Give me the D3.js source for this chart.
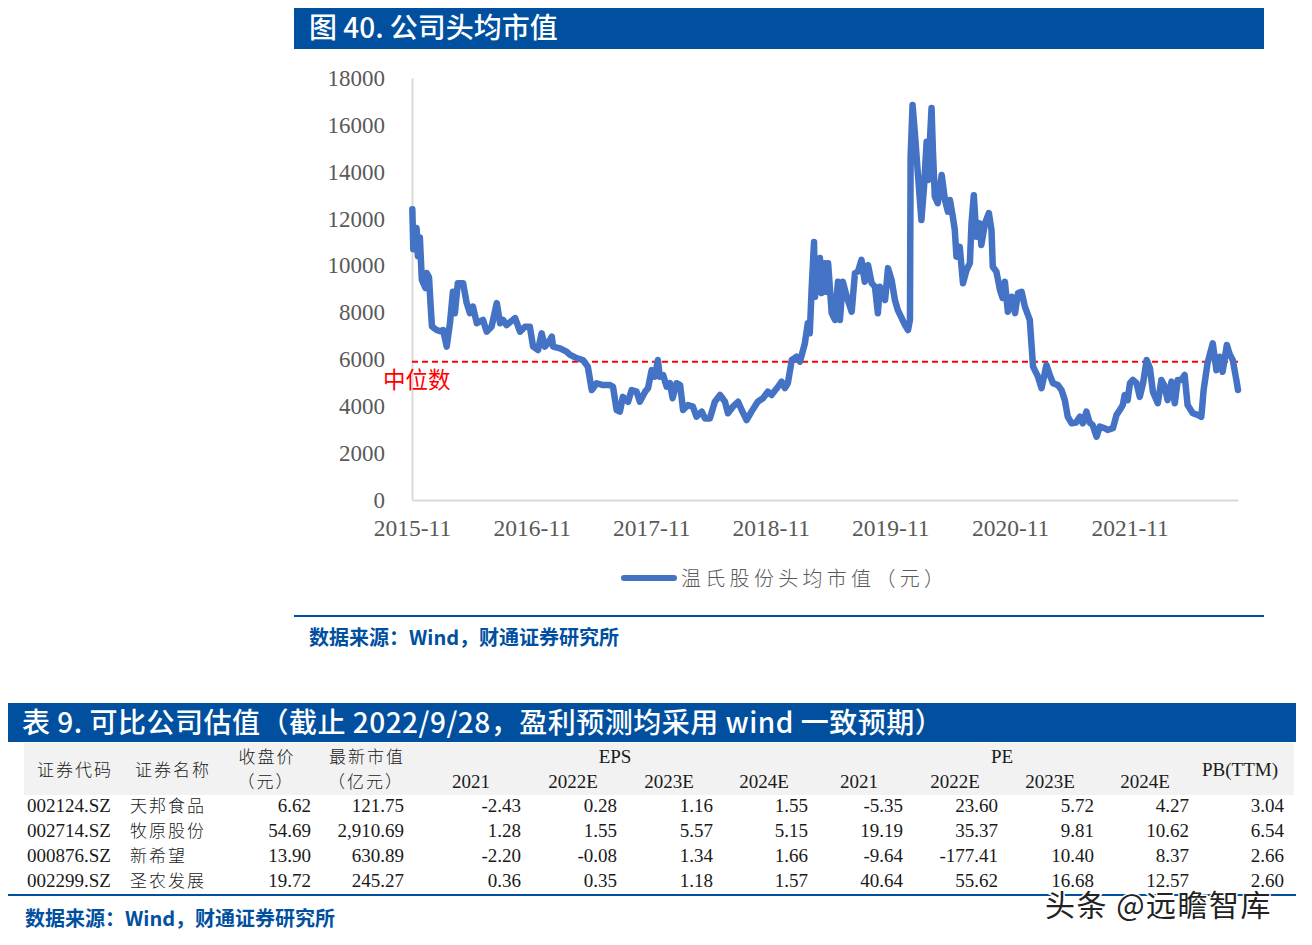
<!DOCTYPE html>
<html>
<head>
<meta charset="utf-8">
<script src="https://cdn.jsdelivr.net/npm/d3@7"></script>
<style>
body { margin: 0; background: #fff; }
svg { display: block; }
</style>
</head>
<body>
<div id="field"></div>
<script>
// 温氏股份头均市值（元）
const dates = [
  "2015-11-02","2015-11-05","2015-11-15","2015-11-19","2015-11-25","2015-12-01","2015-12-12","2015-12-16","2015-12-23","2015-12-27",
  "2016-01-01","2016-01-15","2016-01-26","2016-02-04","2016-02-15","2016-02-25","2016-03-05","2016-03-11","2016-03-20","2016-04-05",
  "2016-04-16","2016-04-26","2016-05-05","2016-05-17","2016-06-05","2016-06-16","2016-07-01","2016-07-17","2016-07-27","2016-08-05",
  "2016-08-16","2016-09-11","2016-09-26","2016-10-11","2016-10-26","2016-11-05","2016-11-20","2016-12-01","2016-12-11","2016-12-20",
  "2017-01-01","2017-01-05","2017-01-26","2017-02-15","2017-02-26","2017-03-18","2017-04-06","2017-04-21","2017-05-03","2017-05-18",
  "2017-06-06","2017-06-28","2017-07-07","2017-07-18","2017-07-28","2017-08-06","2017-08-22","2017-09-02","2017-09-17","2017-09-27",
  "2017-10-13","2017-10-22","2017-11-02","2017-11-12","2017-11-21","2017-11-27","2017-12-07","2017-12-18","2017-12-28","2018-01-05",
  "2018-01-17","2018-01-28","2018-02-06","2018-02-21","2018-03-08","2018-03-19","2018-04-04","2018-04-14","2018-04-29","2018-05-14",
  "2018-05-30","2018-06-14","2018-06-23","2018-07-08","2018-07-24","2018-08-04","2018-08-19","2018-09-03","2018-09-22","2018-10-08",
  "2018-10-23","2018-11-03","2018-11-23","2018-12-04","2018-12-14","2018-12-23","2019-01-04","2019-01-19","2019-01-29","2019-02-13",
  "2019-02-22","2019-02-28","2019-03-06","2019-03-13","2019-03-16","2019-03-31","2019-04-05","2019-04-15","2019-04-20","2019-04-25",
  "2019-05-06","2019-05-16","2019-05-25","2019-05-31","2019-06-09","2019-06-21","2019-07-06","2019-07-16","2019-07-25","2019-08-05",
  "2019-08-15","2019-08-25","2019-09-05","2019-09-15","2019-09-24","2019-09-30","2019-10-16","2019-10-25","2019-11-05","2019-11-15",
  "2019-11-24","2019-12-16","2019-12-25","2019-12-31","2020-01-02","2020-01-08","2020-01-15","2020-01-24","2020-02-04","2020-02-12",
  "2020-02-20","2020-02-24","2020-03-01","2020-03-06","2020-03-10","2020-03-16","2020-03-25","2020-04-06","2020-04-16","2020-04-25",
  "2020-05-01","2020-05-10","2020-05-16","2020-05-21","2020-05-31","2020-06-10","2020-06-21","2020-07-01","2020-07-06","2020-07-13",
  "2020-07-21","2020-07-31","2020-08-05","2020-08-16","2020-08-28","2020-09-05","2020-09-09","2020-09-20","2020-10-01","2020-10-09",
  "2020-10-16","2020-10-25","2020-11-06","2020-11-16","2020-11-25","2020-12-06","2020-12-16","2020-12-31","2021-01-10","2021-01-25",
  "2021-02-05","2021-02-20","2021-03-02","2021-03-12","2021-03-27","2021-04-07","2021-04-17","2021-04-26","2021-05-08","2021-05-21",
  "2021-06-02","2021-06-11","2021-06-22","2021-07-02","2021-07-11","2021-07-23","2021-08-02","2021-08-17","2021-08-26","2021-09-11",
  "2021-09-22","2021-10-02","2021-10-11","2021-10-17","2021-10-26","2021-11-02","2021-11-11","2021-11-22","2021-12-02","2021-12-12",
  "2021-12-23","2022-01-02","2022-01-11","2022-01-26","2022-02-06","2022-02-16","2022-02-25","2022-03-09","2022-03-19","2022-03-28",
  "2022-04-08","2022-04-18","2022-04-27","2022-05-13","2022-05-28","2022-06-08","2022-06-15","2022-06-27","2022-07-13","2022-07-24",
  "2022-08-03","2022-08-12","2022-08-25","2022-09-03","2022-09-12","2022-09-23","2022-09-28"
];
const values = [
  12400,10700,11600,10400,11200,9400,9040,9680,9500,8500,
  7400,7250,7200,7250,6540,7550,8880,7970,9250,9250,
  8400,7970,8250,7540,7680,7180,7390,8400,7540,7680,
  7460,7760,7180,7390,7390,6540,6400,7110,6540,6680,
  6970,6540,6470,6330,6190,6050,5970,5690,4690,4980,
  4900,4900,4830,3840,3770,4400,4190,4690,4620,4190,
  4620,4770,5540,5260,5970,5260,5330,4830,4980,4340,
  4980,4900,3840,4050,3980,3550,3770,3480,3480,4190,
  4480,4190,3700,3980,4190,3840,3410,3770,4190,4340,
  4620,4480,4830,5050,4770,4980,5970,6110,5900,6680,
  7540,7110,9100,11000,8670,10320,8830,10100,8880,10100,
  7970,7680,9310,7680,9310,8670,8030,9680,9740,10240,
  9310,10020,9250,9100,7970,9100,8530,9890,9380,8530,
  8100,7460,7250,7680,14640,16850,15650,13950,11940,13360,
  15280,13650,15350,16720,14930,12940,12660,13860,12800,12300,
  12800,12080,11520,10380,10800,9250,9810,10100,11800,13000,
  11230,11800,10880,11800,12240,11520,9950,9740,8960,8620,
  9310,8030,8670,7970,8830,8880,8250,7680,5690,5260,
  4770,5760,5330,4980,4900,4690,4260,3550,3270,3300,
  3550,3270,3770,3300,3200,2700,3130,3060,2990,3060,
  3630,3840,4050,4480,4260,4980,5120,4980,4400,4980,
  5970,5620,4620,4130,5120,4850,4260,5050,4130,5120,
  5120,5330,4050,3700,3630,3550,4690,5840,6680,5540,
  6110,5470,6610,6200,5970,5120,4690
];
const medianValue = 5900;
const xTickLabels = ["2015-11","2016-11","2017-11","2018-11","2019-11","2020-11","2021-11"];
const yTicks = [0,2000,4000,6000,8000,10000,12000,14000,16000,18000];
const seriesName = "温氏股份头均市值（元）";

// 表 9
const codes = ["002124.SZ","002714.SZ","000876.SZ","002299.SZ"];
const names = ["天邦食品","牧原股份","新希望","圣农发展"];
const closePrice = ["6.62","54.69","13.90","19.72"];
const marketCap = ["121.75","2,910.69","630.89","245.27"];
const eps2021 = ["-2.43","1.28","-2.20","0.36"];
const eps2022 = ["0.28","1.55","-0.08","0.35"];
const eps2023 = ["1.16","5.57","1.34","1.18"];
const eps2024 = ["1.55","5.15","1.66","1.57"];
const pe2021 = ["-5.35","19.19","-9.64","40.64"];
const pe2022 = ["23.60","35.37","-177.41","55.62"];
const pe2023 = ["5.72","9.81","10.40","16.68"];
const pe2024 = ["4.27","10.62","8.37","12.57"];
const pbTTM = ["3.04","6.54","2.66","2.60"];
const yearHeaders = ["2021","2022E","2023E","2024E"];

const blue = "#00509f";
const serif = "'Liberation Serif','Times New Roman','Noto Sans CJK SC',serif";
const cjk = "'Noto Sans CJK SC','Noto Sans',sans-serif";

const svg = d3.select("#field").append("svg")
    .attr("width", 1312)
    .attr("height", 945);

// ---- figure title
svg.append("rect").attr("x", 294).attr("y", 8).attr("width", 970).attr("height", 41).attr("fill", blue);
svg.append("text").attr("x", 309).attr("y", 38)
    .attr("fill", "#fff").attr("font-family", cjk).attr("font-size", 28).attr("font-weight", 500)
    .text("图 40. 公司头均市值");

// ---- chart
const parseDay = d3.timeParse("%Y-%m-%d");
const parseMonth = d3.timeParse("%Y-%m");
const data = dates.map(function(d, i) { return {date: parseDay(d), value: values[i]}; });

const x = d3.scaleTime()
    .domain([parseMonth("2015-11"), d3.max(data, function(d) { return d.date; })])
    .range([412, 1238]);

const y = d3.scaleLinear()
    .domain([0, 18000])
    .range([500, 78]);

const yAxis = svg.append("g")
    .attr("transform", "translate(412,0)")
    .call(d3.axisLeft(y).tickValues(yTicks).tickFormat(d3.format("d")).tickSize(0).tickPadding(27));
yAxis.select(".domain").attr("stroke", "#d9d9d9").attr("stroke-width", 2);
yAxis.selectAll("text").attr("font-family", serif).attr("font-size", 23).attr("fill", "#595959");

const xAxis = svg.append("g")
    .attr("transform", "translate(0,500)")
    .call(d3.axisBottom(x)
        .tickValues(xTickLabels.map(parseMonth))
        .tickFormat(d3.timeFormat("%Y-%m"))
        .tickSize(0).tickPadding(19));
xAxis.select(".domain").attr("stroke", "#d9d9d9").attr("stroke-width", 2);
xAxis.selectAll("text").attr("font-family", serif).attr("font-size", 23.5).attr("fill", "#595959");

// median line
svg.append("line")
    .attr("x1", x.range()[0]).attr("x2", x.range()[1])
    .attr("y1", y(medianValue)).attr("y2", y(medianValue))
    .attr("stroke", "#ff0000").attr("stroke-width", 2).attr("stroke-dasharray", "6,4");

const line = d3.line()
    .x(function(d) { return x(d.date); })
    .y(function(d) { return y(d.value); });

svg.append("path")
    .datum(data)
    .attr("d", line)
    .attr("fill", "none")
    .attr("stroke", "#4472c4")
    .attr("stroke-width", 6.5)
    .attr("stroke-linejoin", "round")
    .attr("stroke-linecap", "round");

svg.append("text").attr("x", 383).attr("y", 388)
    .attr("fill", "#ff0000").attr("font-family", cjk).attr("font-size", 22.5)
    .text("中位数");

// legend
svg.append("line").attr("x1", 624).attr("x2", 674).attr("y1", 578).attr("y2", 578)
    .attr("stroke", "#4472c4").attr("stroke-width", 6).attr("stroke-linecap", "round");
svg.append("text").attr("x", 681).attr("y", 586)
    .attr("fill", "#595959").attr("font-family", cjk).attr("font-size", 20).attr("font-weight", 300)
    .attr("letter-spacing", 4.3)
    .text(seriesName);

svg.append("line").attr("x1", 294).attr("x2", 1264).attr("y1", 616).attr("y2", 616)
    .attr("stroke", blue).attr("stroke-width", 2);
svg.append("text").attr("x", 309).attr("y", 645)
    .attr("fill", blue).attr("font-family", cjk).attr("font-size", 20).attr("font-weight", 700)
    .text("数据来源：Wind，财通证券研究所");

// ---- table
svg.append("rect").attr("x", 8).attr("y", 703).attr("width", 1288).attr("height", 39).attr("fill", blue);
svg.append("text").attr("x", 22).attr("y", 733)
    .attr("fill", "#fff").attr("font-family", cjk).attr("font-size", 28).attr("font-weight", 500)
    .attr("letter-spacing", 0.5)
    .text("表 9. 可比公司估值（截止 2022/9/28，盈利预测均采用 wind 一致预期）");

svg.append("rect").attr("x", 24).attr("y", 743).attr("width", 1270).attr("height", 52).attr("fill", "#f2f2f2");

const table = svg.append("g")
    .attr("font-family", serif).attr("font-size", 19).attr("fill", "#1a1a1a");

function headText(tx, ty, s, anchor) {
    const latin = /[A-Z0-9]/.test(s);
    table.append("text").attr("x", tx).attr("y", ty + 6)
        .attr("text-anchor", anchor || "middle")
        .attr("font-family", latin ? serif : cjk)
        .attr("font-size", latin ? 19 : 17)
        .attr("font-weight", latin ? 400 : 300)
        .attr("letter-spacing", latin ? 0 : 2)
        .text(s);
}
headText(75, 770, "证券代码");
headText(173, 770, "证券名称");
headText(267, 757, "收盘价");
headText(266, 782, "（元）");
headText(367, 757, "最新市值");
headText(366, 782, "（亿元）");
headText(615, 757, "EPS");
headText(1002, 757, "PE");
headText(1240, 770, "PB(TTM)");
const epsHeadX = [471, 573, 669, 764];
const peHeadX = [859, 955, 1050, 1145];
yearHeaders.forEach(function(h, i) {
    headText(epsHeadX[i], 782, h);
    headText(peHeadX[i], 782, h);
});

const rowY = d3.scaleLinear().domain([0, 1]).range([806, 831]);
const numCols = [
    {vals: closePrice, x: 311}, {vals: marketCap, x: 404},
    {vals: eps2021, x: 521}, {vals: eps2022, x: 617}, {vals: eps2023, x: 713}, {vals: eps2024, x: 808},
    {vals: pe2021, x: 903}, {vals: pe2022, x: 998}, {vals: pe2023, x: 1094}, {vals: pe2024, x: 1189},
    {vals: pbTTM, x: 1284}
];

codes.forEach(function(c, i) {
    const ry = rowY(i) + 6;
    table.append("text").attr("x", 27).attr("y", ry).text(c);
    table.append("text").attr("x", 130).attr("y", ry)
        .attr("font-family", cjk).attr("font-size", 17).attr("font-weight", 300).attr("letter-spacing", 2)
        .text(names[i]);
    numCols.forEach(function(col) {
        table.append("text").attr("x", col.x).attr("y", ry).attr("text-anchor", "end").text(col.vals[i]);
    });
});

svg.append("line").attr("x1", 8).attr("x2", 1296).attr("y1", 895).attr("y2", 895)
    .attr("stroke", blue).attr("stroke-width", 2);
svg.append("text").attr("x", 25).attr("y", 926)
    .attr("fill", blue).attr("font-family", cjk).attr("font-size", 20).attr("font-weight", 700)
    .text("数据来源：Wind，财通证券研究所");

// watermark (sits over the last table row, as in the source)
svg.append("text").attr("x", 1045).attr("y", 916)
    .attr("fill", "#222").attr("stroke", "#fff").attr("stroke-width", 3).attr("paint-order", "stroke")
    .attr("font-family", cjk).attr("font-size", 30).attr("letter-spacing", 1.5)
    .text("头条 @远瞻智库");
</script>
</body>
</html>
